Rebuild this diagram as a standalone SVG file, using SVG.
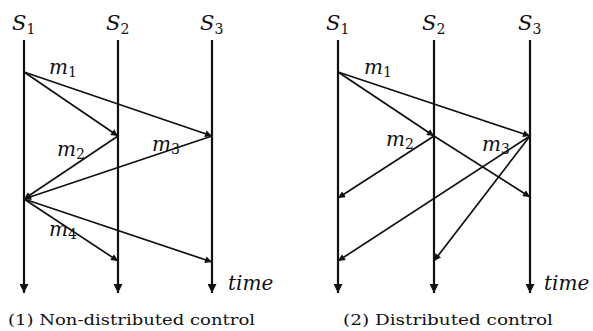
<svg xmlns="http://www.w3.org/2000/svg" width="593" height="331" viewBox="0 0 593 331">
<style>
.tl{stroke:#111;stroke-width:2.2;fill:none}
.msg{stroke:#111;stroke-width:1.7;fill:none;marker-end:url(#ah)}
.lbl{font-family:"DejaVu Serif",serif;font-style:italic;font-size:21px;fill:#111}
.ml{font-family:"DejaVu Serif",serif;font-style:italic;font-size:20px;fill:#111}
.sub{font-family:"DejaVu Serif",serif;font-style:normal;font-size:14px;fill:#111}
.cap{font-family:"DejaVu Serif",serif;font-size:15px;fill:#111}
</style>
<defs>
<marker id="ah" viewBox="0 0 10 10" refX="10" refY="5" markerWidth="10" markerHeight="7" markerUnits="userSpaceOnUse" orient="auto"><path d="M0,0 L10,5 L0,10 z" fill="#111"/></marker>
<marker id="te" viewBox="0 0 10 10" refX="10" refY="5" markerWidth="15" markerHeight="9" markerUnits="userSpaceOnUse" orient="auto"><path d="M0,0 L10,5 L0,10 z" fill="#111"/></marker>
</defs>
<g id="panel1">
<g id="p1-s1"><line class="tl" x1="24" y1="40" x2="24" y2="293" marker-end="url(#te)"/><text class="lbl" x="12" y="30">S<tspan class="sub" dy="4">1</tspan></text></g>
<g id="p1-s2"><line class="tl" x1="118" y1="40" x2="118" y2="293" marker-end="url(#te)"/><text class="lbl" x="106" y="30">S<tspan class="sub" dy="4">2</tspan></text></g>
<g id="p1-s3"><line class="tl" x1="212" y1="40" x2="212" y2="293" marker-end="url(#te)"/><text class="lbl" x="200" y="30">S<tspan class="sub" dy="4">3</tspan></text></g>
<g id="p1-connectors">
<line class="msg" x1="24" y1="72" x2="118" y2="136"/>
<line class="msg" x1="24" y1="72" x2="212" y2="136"/>
<line class="msg" x1="118" y1="136" x2="24" y2="199"/>
<line class="msg" x1="212" y1="136" x2="24" y2="199"/>
<line class="msg" x1="24" y1="199" x2="118" y2="261"/>
<line class="msg" x1="24" y1="199" x2="212" y2="262"/>
</g>
<text class="ml" x="49" y="74">m<tspan class="sub" dy="3">1</tspan></text>
<text class="ml" x="57" y="156">m<tspan class="sub" dy="3">2</tspan></text>
<text class="ml" x="152" y="151">m<tspan class="sub" dy="3">3</tspan></text>
<text class="ml" x="49" y="236">m<tspan class="sub" dy="3">4</tspan></text>
<text class="ml" x="228" y="290">time</text>
<text class="cap" x="8" y="325" textLength="247" lengthAdjust="spacingAndGlyphs">(1) Non-distributed control</text>
</g>
<g id="panel2">
<g id="p2-s1"><line class="tl" x1="338" y1="40" x2="338" y2="293" marker-end="url(#te)"/><text class="lbl" x="326" y="30">S<tspan class="sub" dy="4">1</tspan></text></g>
<g id="p2-s2"><line class="tl" x1="434" y1="40" x2="434" y2="293" marker-end="url(#te)"/><text class="lbl" x="422" y="30">S<tspan class="sub" dy="4">2</tspan></text></g>
<g id="p2-s3"><line class="tl" x1="530" y1="40" x2="530" y2="293" marker-end="url(#te)"/><text class="lbl" x="518" y="30">S<tspan class="sub" dy="4">3</tspan></text></g>
<g id="p2-connectors">
<line class="msg" x1="338" y1="72" x2="434" y2="136"/>
<line class="msg" x1="338" y1="72" x2="530" y2="136"/>
<line class="msg" x1="434" y1="136" x2="338" y2="198"/>
<line class="msg" x1="434" y1="136" x2="530" y2="197"/>
<line class="msg" x1="530" y1="136" x2="338" y2="261"/>
<line class="msg" x1="530" y1="136" x2="434" y2="261"/>
</g>
<text class="ml" x="364" y="74">m<tspan class="sub" dy="3">1</tspan></text>
<text class="ml" x="386" y="146">m<tspan class="sub" dy="3">2</tspan></text>
<text class="ml" x="482" y="151">m<tspan class="sub" dy="3">3</tspan></text>
<text class="ml" x="544" y="290">time</text>
<text class="cap" x="343" y="325" textLength="210" lengthAdjust="spacingAndGlyphs">(2) Distributed control</text>
</g>
</svg>
